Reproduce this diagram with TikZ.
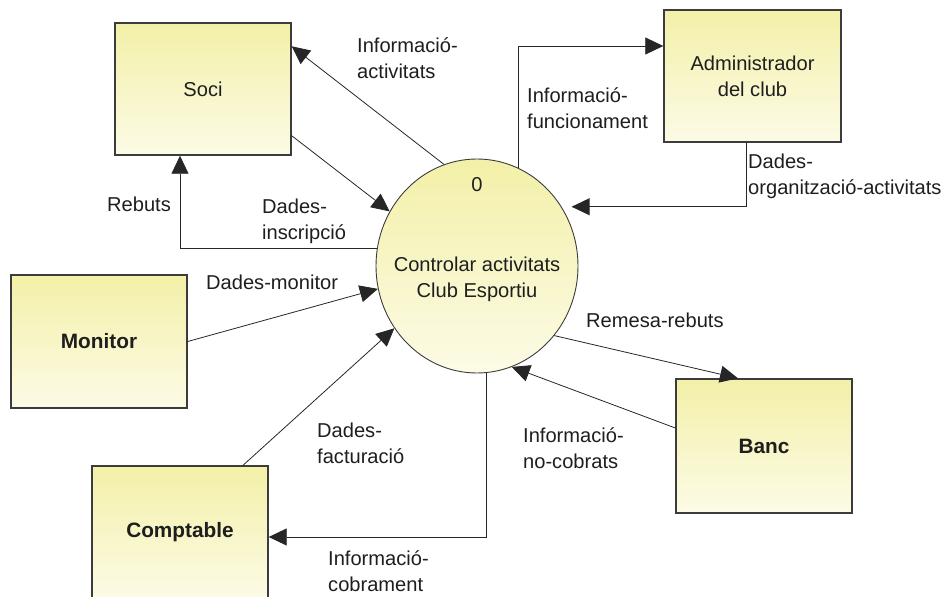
\documentclass[tikz,border=0pt]{standalone}
\usepackage{fontspec}
\setmainfont{Liberation Sans}
\usetikzlibrary{arrows.meta,shapes.geometric}
\definecolor{boxtop}{RGB}{243,240,168}
\definecolor{boxbot}{RGB}{252,251,230}
\definecolor{edgecol}{RGB}{60,60,60}
\definecolor{txtcol}{RGB}{30,30,30}
\begin{document}
\begin{tikzpicture}[x=1pt,y=-1pt,
  entity/.style={draw=edgecol, line width=1.4pt, rectangle, top color=boxtop, bottom color=boxbot,
    minimum width=176pt, minimum height=132pt, inner sep=0pt, align=center, text=txtcol,
    font=\fontsize{20.1}{26}\selectfont},
  bentity/.style={entity, font=\fontsize{20.8}{26}\selectfont\bfseries},
  procshape/.style={draw=edgecol, line width=0.9pt, ellipse, top color=boxtop, bottom color=boxbot,
    minimum width=202pt, minimum height=214pt, inner sep=0pt},
  ptext/.style={align=center, inner sep=0pt, text=txtcol, font=\fontsize{20.1}{26}\selectfont},
  flow/.style={draw=black!85, line width=0.8pt, -{Triangle[length=18pt,width=17pt]}},
  lbl/.style={anchor=west, align=left, inner sep=0pt, text=txtcol, font=\fontsize{20.1}{26}\selectfont}
]
\useasboundingbox (0,0) rectangle (946,597);
\clip (0,0) rectangle (946,597);

% entities
\node[entity] (soci) at (203,89) {Soci};
\node[entity, minimum width=177pt] (admin) at (752.5,76) {Administrador\\del club};
\node[bentity, minimum height=133pt] (monitor) at (99,341.5) {Monitor};
\node[bentity, minimum height=134pt] (banc) at (764,446) {Banc};
\node[bentity, minimum height=133pt] (comptable) at (180,532.5) {Comptable};

% process
\node[procshape] (proc) at (477,266) {};
\node[ptext] (pnum) at (477,185) {0};
\node[ptext] (pname) at (477,279) {Controlar activitats\\Club Esportiu};

% flows
\draw[flow] (proc.108.6) -- ([yshift=-24pt]soci.north east);
\draw[flow] ([yshift=20pt]soci.south east) -- (proc.148.2);
\draw[flow] (proc.170.3) -| ([xshift=-23pt]soci.south);
\draw[flow] (monitor.east) -- (proc.193.9);
\draw[flow] ([xshift=63pt]comptable.north) -- (proc.217.5);
\draw[flow] (proc.275.9) |- ([yshift=-4.5pt]comptable.east);
\draw[flow] (proc.318.2) -- ([xshift=-26pt]banc.north);
\draw[flow] ([yshift=18pt]banc.west) -- (proc.289.5);
\draw[flow] (proc.67.3) |- ([yshift=30pt]admin.west);
\draw[flow, shorten >=10pt] ([xshift=-6.5pt]admin.south) |- (proc.35);

% labels
\node[lbl] (l1) at (357,58) {Informació-\\activitats};
\node[lbl] (l2) at (527,108) {Informació-\\funcionament};
\node[lbl] (l3) at (748,176) {Dades-\\organització-activitats};
\node[lbl] (l4) at (107,204) {Rebuts};
\node[lbl] (l5) at (262,221) {Dades-\\inscripció};
\node[lbl] (l6) at (206,282) {Dades-monitor};
\node[lbl] (l7) at (317,443) {Dades-\\facturació};
\node[lbl] (l8) at (586,320) {Remesa-rebuts};
\node[lbl] (l9) at (523,448.5) {Informació-\\no-cobrats};
\node[lbl] (l10) at (328,571.5) {Informació-\\cobrament};
\end{tikzpicture}
\end{document}
